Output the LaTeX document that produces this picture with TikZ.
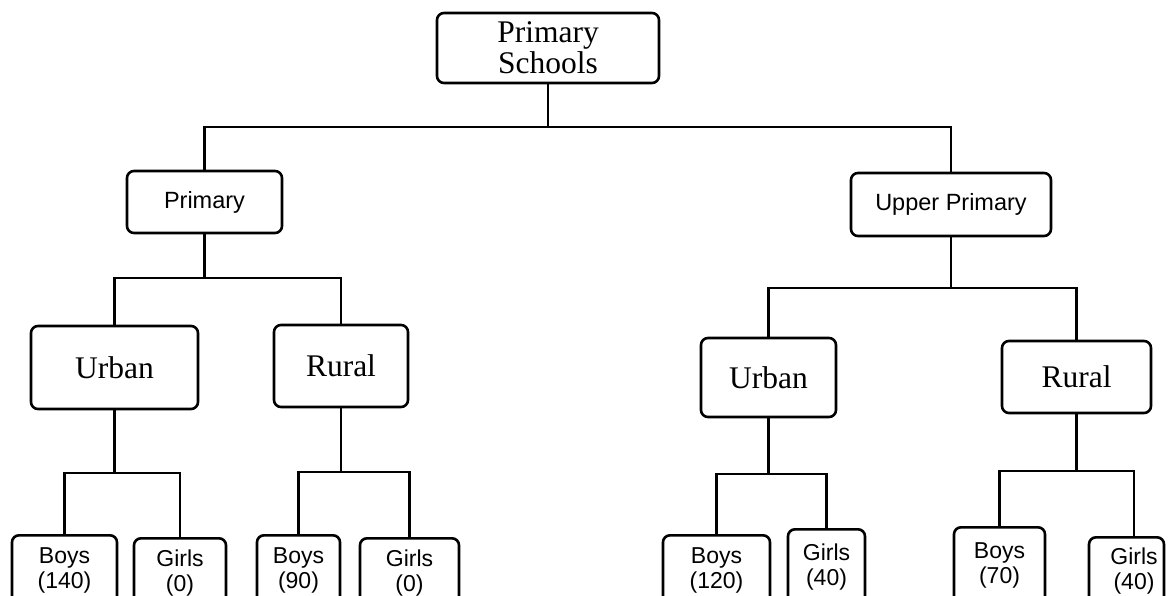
\documentclass[tikz,border=0pt]{standalone}
\usepackage{fontspec}
\setmainfont{Liberation Serif}
\setsansfont{Liberation Sans}
\begin{document}
\begin{tikzpicture}[x=1pt,y=-1pt,
  conn/.style={line width=2.4pt},
  bx/.style={draw, line width=2.6pt, rounded corners=7pt, inner sep=0pt, align=center},
  serifbox/.style={bx, font=\fontsize{31.5}{31}\selectfont},
  sansbox/.style={bx, font=\sffamily\fontsize{23.5}{25}\selectfont},
  leaf/.style={bx, anchor=north, minimum height=70pt, font=\sffamily\fontsize{23}{25}\selectfont},
  leaftext/.style={inner sep=0pt, align=center, font=\sffamily\fontsize{23}{25}\selectfont}]
\useasboundingbox (0,0) rectangle (1168,595);
\clip (0,0) rectangle (1168,595);
\fill[white] (0,0) rectangle (1168,595);

% top levels
\node[serifbox, minimum width=222pt, minimum height=70pt] (root) at (548,48) {Primary\\Schools};
\node[sansbox, minimum width=155pt, minimum height=62pt] (prim) at (204.5,202) {Primary};
\node[sansbox, minimum width=200pt, minimum height=63pt] (up) at (951,204.5) {Upper Primary};

% third level
\node[serifbox, minimum width=167pt, minimum height=83pt] (u1) at (114.5,367.5) {Urban};
\node[serifbox, minimum width=134pt, minimum height=82pt] (r1) at (341,366) {Rural};
\node[serifbox, minimum width=135pt, minimum height=79pt] (u2) at (768.5,377.5) {Urban};
\node[serifbox, minimum width=149pt, minimum height=72pt] (r2) at (1076.5,377) {Rural};

% leaves
\node[leaf, minimum width=105pt] (b1) at (64.5,534) {Boys\\(140)};
\node[leaf, minimum width=92pt] (g1) at (180,537) {Girls\\(0)};
\node[leaf, minimum width=83pt] (b2) at (298.5,534) {Boys\\(90)};
\node[leaf, minimum width=99pt] (g2) at (409.5,537) {Girls\\(0)};
\node[leaf, minimum width=107pt] (b3) at (716.5,534) {Boys\\(120)};
\node[leaf, minimum width=77pt, minimum height=75pt] (g3) at (826.5,528) {Girls\\(40)};
\node[leaf, minimum width=91pt, minimum height=76pt] (b4) at (999.5,526) {Boys\\(70)};
\node[leaf, minimum width=75pt] (g4) at (1126.5,536) {};
\node[leaftext] (g4t) at (1134,571) {Girls\\(40)};

% junctions
\coordinate (j0) at (548,127);
\coordinate (j1) at (204.5,278);
\coordinate (j2) at (951,288);
\coordinate (j3) at (114.5,473);
\coordinate (j4) at (341,472);
\coordinate (j5) at (768.5,474);
\coordinate (j6) at (1076.5,471);

% connectors
\draw[conn] (root.south) -- (j0);
\draw[conn] (j0) -| (prim.north);
\draw[conn] (j0) -| (up.north);
\draw[conn] (prim.south) -- (j1);
\draw[conn] (j1) -| (u1.north);
\draw[conn] (j1) -| (r1.north);
\draw[conn] (up.south) -- (j2);
\draw[conn] (j2) -| (u2.north);
\draw[conn] (j2) -| (r2.north);
\draw[conn] (u1.south) -- (j3);
\draw[conn] (j3) -| (b1.north);
\draw[conn] (j3) -| (g1.north);
\draw[conn] (r1.south) -- (j4);
\draw[conn] (j4) -| (b2.north);
\draw[conn] (j4) -| (g2.north);
\draw[conn] (u2.south) -- (j5);
\draw[conn] (j5) -| (b3.north);
\draw[conn] (j5) -| (g3.north);
\draw[conn] (r2.south) -- (j6);
\draw[conn] (j6) -| (b4.north);
\draw[conn] (j6) -| (g4.north -| g4t);
\end{tikzpicture}
\end{document}
